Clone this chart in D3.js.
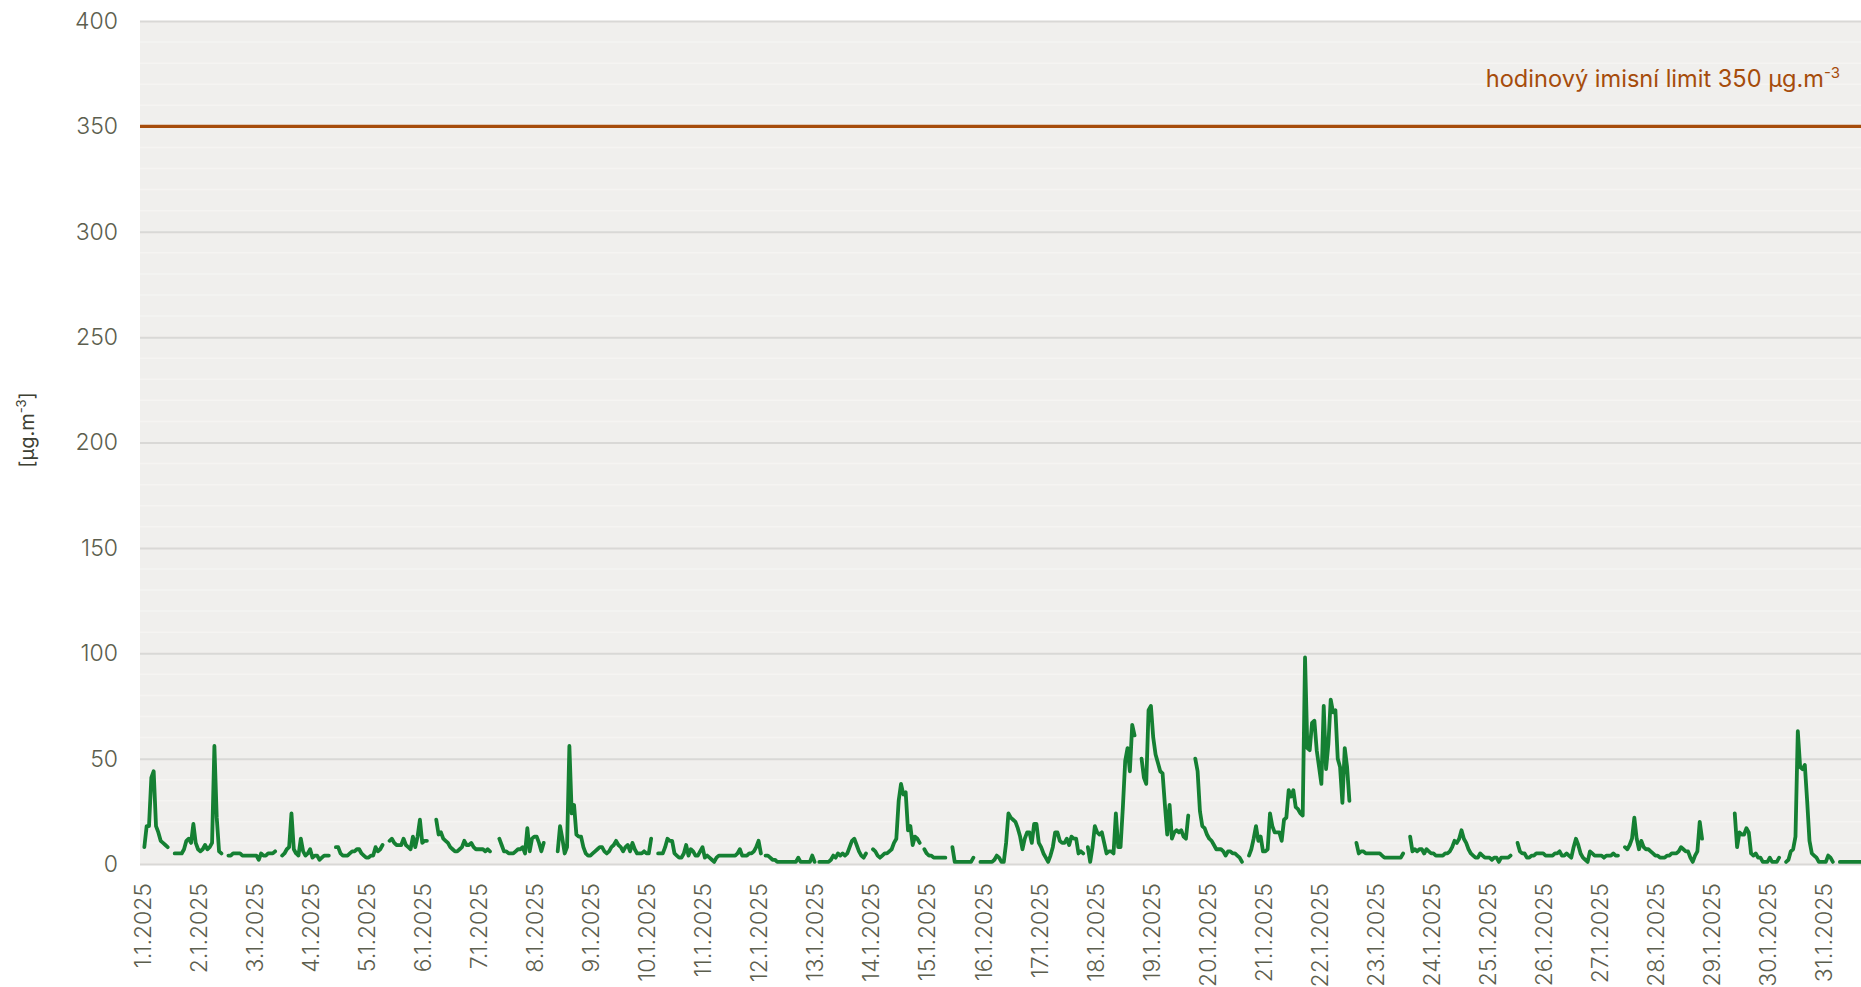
<!DOCTYPE html>
<html>
<head>
<meta charset="utf-8">
<script src="https://cdn.jsdelivr.net/npm/d3@7"></script>
<style>
  html, body { margin: 0; padding: 0; background: #fff; overflow: hidden; }
  svg { display: block; font-family: Inter, "Noto Sans", sans-serif; }
</style>
</head>
<body>
<div id="chart"></div>
<script>
// day labels on the x axis
var dayLabels = d3.range(1, 32).map(d => `${d}.1.2025`);

// hourly concentrations [µg.m-3], one row per day (hour 1 .. 24), null = missing value
var hourlyValues = [
  [8,18,18,41,44,18,15,11,10,9,8,null,null,5,5,5,5,7,11,12,10,19,10,7],
  [6,7,9,7,8,10,56,22,6,5,null,null,4,4,5,5,5,5,4,4,4,4,4,4],
  [4,2,5,4,4,5,5,5,6,null,null,4,5,7,8,24,7,5,4,12,6,4,5,7],
  [3,4,4,2,3,4,4,4,null,null,8,8,5,4,4,4,5,6,6,7,7,5,4,3],
  [3,4,4,8,6,7,9,null,null,11,12,10,9,9,9,12,9,8,7,13,8,13,21,10],
  [11,11,null,null,null,21,14,15,12,11,10,8,7,6,6,7,8,11,9,9,10,8,7,7],
  [7,7,6,7,6,null,null,null,12,9,6,6,5,5,5,6,7,7,8,5,17,6,12,13],
  [13,10,6,10,null,null,null,null,null,6,18,12,5,8,56,24,28,14,13,13,8,5,4,4],
  [5,6,7,8,8,6,5,6,8,9,11,9,8,6,8,9,6,10,7,5,5,5,6,5],
  [5,12,null,null,5,5,5,8,12,11,11,5,4,3,3,5,9,4,7,6,4,4,6,8],
  [3,4,3,2,1,3,4,4,4,4,4,4,4,4,5,7,4,4,4,5,5,6,8,11],
  [5,null,4,4,3,2,2,1,1,1,1,1,1,1,1,1,3,1,1,1,1,1,4,1],
  [null,1,1,1,1,1,2,4,3,5,4,5,4,5,8,11,12,9,6,4,3,5,null,null],
  [7,6,4,3,4,5,5,6,7,10,12,30,38,33,34,16,18,9,13,12,10,null,7,5],
  [4,4,3,3,3,3,3,3,null,null,8,1,1,1,1,1,1,1,1,3,null,null,1,1],
  [1,1,1,1,2,4,3,1,1,10,24,22,21,20,17,13,7,12,15,15,10,19,19,10],
  [8,5,3,1,4,8,15,15,11,10,10,12,9,13,12,12,5,6,5,null,8,1,8,18],
  [15,14,15,10,5,6,6,5,24,8,8,27,49,55,44,66,61,null,null,50,41,38,73,75],
  [60,52,48,44,43,28,14,28,12,15,16,15,16,13,12,23,null,null,50,44,25,18,17,14],
  [12,11,9,7,7,7,6,4,6,6,5,5,4,3,1,null,null,4,7,12,18,11,13,6],
  [6,7,24,18,15,15,15,11,21,22,35,32,35,27,26,24,23,98,55,54,67,68,54,46],
  [38,75,45,57,78,72,73,50,46,29,55,46,30,null,null,10,5,6,6,5,5,5,5,5],
  [5,5,4,3,3,3,3,3,3,3,3,5,null,null,13,6,7,6,7,7,5,7,6,5],
  [5,4,4,4,4,5,5,6,8,11,10,12,16,12,10,7,5,4,3,3,5,4,3,3],
  [3,2,3,3,1,3,3,3,3,4,null,null,10,6,5,5,3,3,4,4,5,5,5,5],
  [4,4,4,4,5,5,6,4,4,5,4,3,8,12,9,5,3,2,1,6,5,4,4,4],
  [4,3,4,4,4,5,4,4,null,null,8,7,9,12,22,12,7,11,8,7,7,6,5,4],
  [4,3,3,3,4,4,5,5,5,6,8,7,6,6,3,1,4,6,20,12,null,null,null,null],
  [null,null,null,null,null,null,null,null,null,24,8,15,14,14,17,15,5,4,5,3,3,1,1,1],
  [3,1,1,1,3,null,null,1,2,6,7,13,63,46,45,47,30,11,5,4,3,1,1,1],
  [1,4,3,1,null,null,1,1,1,1,1,1,1,1,1,1,1,1,1,1,1,1,1,1]
];

var yTicks = [0, 50, 100, 150, 200, 250, 300, 350, 400];
var yMinorTicks = d3.range(10, 400, 10).filter(v => v % 50 != 0);
var limitValue = 350;
var limitLabel = "hodinový imisní limit 350 µg.m";
var unitLabel = "[µg.m";

var width = 1861;
var height = 987;
var plotLeft = 140;
var plotTop = 21;
var plotBottom = 864;
var firstDayX = 142;
var dayWidth = 56.05;

var tickColor = "#5c5e4e";
var gridColor = "#d9d8d6";
var minorGridColor = "#f5f4f2";
var plotFill = "#f0efed";
var limitColor = "#a64c0b";
var lineColor = "#158033";

var startTime = Date.UTC(2025, 0, 1);
var hourMs = 3600 * 1000;

var points = [];
hourlyValues.forEach((row, dayIdx) => {
  row.forEach((v, hourIdx) => {
    points.push({
      time: new Date(startTime + (dayIdx * 24 + hourIdx + 1) * hourMs),
      value: v
    });
  });
});

var svg = d3.select("#chart").append("svg")
  .attr("width", width)
  .attr("height", height);

var x = d3.scaleUtc()
  .domain([new Date(startTime), new Date(startTime + 31 * 24 * hourMs)])
  .range([firstDayX, firstDayX + 31 * dayWidth]);

var y = d3.scaleLinear()
  .domain([0, 400])
  .range([plotBottom, plotTop]);

svg.append("clipPath")
  .attr("id", "plotClip")
.append("rect")
  .attr("x", plotLeft)
  .attr("y", plotTop - 4)
  .attr("width", width - plotLeft)
  .attr("height", plotBottom - plotTop + 8);

svg.append("rect")
  .attr("x", plotLeft)
  .attr("y", plotTop)
  .attr("width", width - plotLeft)
  .attr("height", plotBottom - plotTop)
  .attr("fill", plotFill);

// faint minor grid every 10
svg.append("g")
  .selectAll("line")
  .data(yMinorTicks)
  .enter()
  .append("line")
    .attr("x1", plotLeft)
    .attr("x2", width)
    .attr("y1", d => y(d))
    .attr("y2", d => y(d))
    .attr("stroke", minorGridColor)
    .attr("stroke-width", 1.5);

// y axis, gridlines drawn from the axis ticks
var yAxis = svg.append("g")
  .attr("transform", `translate(${plotLeft},0)`)
  .call(d3.axisLeft(y).tickValues(yTicks).tickSize(-(width - plotLeft)).tickPadding(22));

yAxis.select(".domain").remove();
yAxis.selectAll(".tick line")
  .attr("stroke", gridColor)
  .attr("stroke-width", 2);
yAxis.selectAll(".tick text")
  .attr("fill", tickColor)
  .attr("font-size", 23)
  .attr("font-weight", 300)
  .attr("font-family", "Inter, sans-serif");

// x axis, rotated day labels
var xAxis = svg.append("g")
  .attr("transform", `translate(0,${plotBottom})`)
  .call(d3.axisBottom(x)
    .tickValues(dayLabels.map((d, i) => new Date(startTime + i * 24 * hourMs)))
    .tickFormat((d, i) => dayLabels[i])
    .tickSize(0));

xAxis.select(".domain").remove();
xAxis.selectAll(".tick text")
  .attr("fill", tickColor)
  .attr("font-size", 23)
  .attr("font-weight", 300)
  .attr("font-family", "Inter, sans-serif")
  .attr("text-anchor", "end")
  .attr("transform", "rotate(-90)")
  .attr("x", -19)
  .attr("y", 0)
  .attr("dy", "0.36em");

// limit line
svg.append("line")
  .attr("x1", plotLeft)
  .attr("x2", width)
  .attr("y1", y(limitValue))
  .attr("y2", y(limitValue))
  .attr("stroke", limitColor)
  .attr("stroke-width", 3.2);

var limitText = svg.append("text")
  .attr("x", 1840)
  .attr("y", 87)
  .attr("text-anchor", "end")
  .attr("fill", limitColor)
  .attr("font-size", 23.6)
  .attr("font-family", "Inter, sans-serif")
  .text(limitLabel);
limitText.append("tspan")
  .attr("dy", -9)
  .attr("font-size", 15)
  .text("-3");

// data line
var line = d3.line()
  .defined(d => d.value != null)
  .x(d => x(d.time))
  .y(d => y(d.value));

svg.append("path")
  .datum(points)
  .attr("clip-path", "url(#plotClip)")
  .attr("d", line)
  .attr("fill", "none")
  .attr("stroke", lineColor)
  .attr("stroke-width", 3.8)
  .attr("stroke-linejoin", "round")
  .attr("stroke-linecap", "round");

// unit label
var unitText = svg.append("text")
  .attr("transform", "translate(34,430) rotate(-90)")
  .attr("text-anchor", "middle")
  .attr("fill", "#3d3f33")
  .attr("font-size", 20)
  .attr("font-family", "Inter, sans-serif")
  .text(unitLabel);
unitText.append("tspan")
  .attr("dy", -8)
  .attr("font-size", 13)
  .text("-3");
unitText.append("tspan")
  .attr("dy", 8)
  .text("]");
</script>
</body>
</html>
